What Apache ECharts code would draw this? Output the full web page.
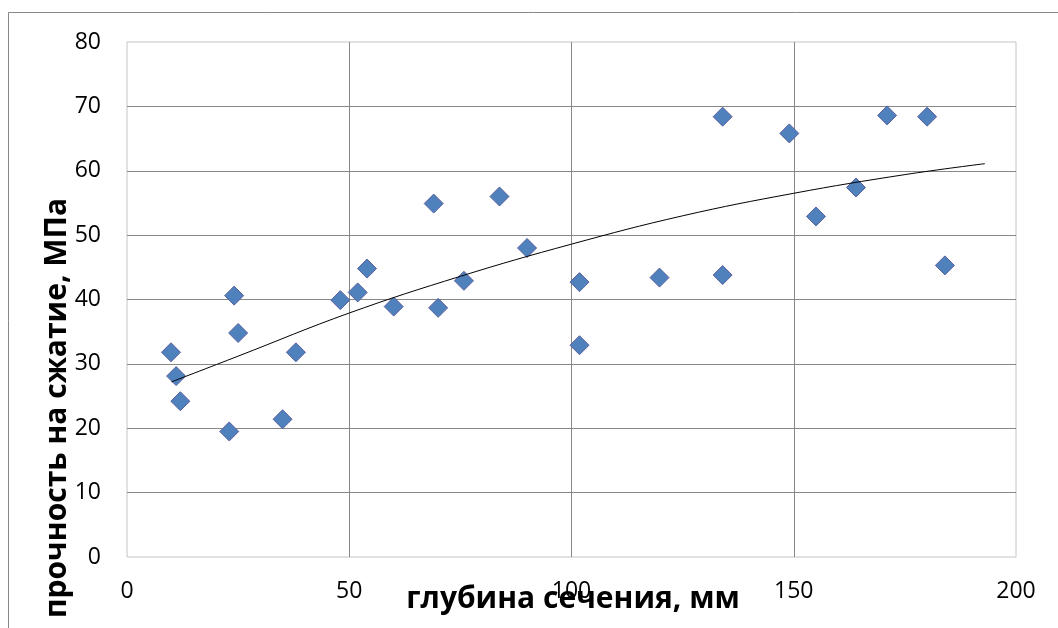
<!DOCTYPE html>
<html>
<head>
<meta charset="utf-8">
<script src="https://cdn.jsdelivr.net/npm/echarts@6/dist/echarts.min.js"></script>
<style>
html,body{margin:0;padding:0;background:#fff;}
#chart{width:1058px;height:628px;}
</style>
</head>
<body>
<div id="chart"></div>
<script>
// depth of section, mm
const depthX = [9.9, 11.05, 12.0, 23.0, 24.1, 25.0, 35.0, 38.0, 48.0, 51.9, 54.0, 60.0, 69.0, 70.0, 75.8, 83.8, 90.0, 101.8, 101.8, 119.8, 134.0, 134.0, 149.0, 155.0, 164.0, 171.0, 180.0, 184.0];
// compressive strength, MPa
const strengthY = [31.8, 28.1, 24.2, 19.5, 40.6, 34.8, 21.4, 31.8, 39.9, 41.1, 44.8, 38.9, 54.9, 38.7, 42.9, 56.0, 48.0, 42.7, 32.9, 43.4, 68.4, 43.8, 65.8, 52.9, 57.4, 68.6, 68.4, 45.3];
// trend line
const trendX = [10, 25, 50, 75, 100, 125, 150, 175, 193];
const trendY = [27.2, 31.2, 37.9, 43.6, 48.6, 53.0, 56.5, 59.4, 61.1];
const xTitle = 'глубина сечения, мм';
const yTitle = 'прочность на сжатие, МПа';

const FONT = '"Open Sans", "Noto Sans", sans-serif';
const chart = echarts.init(document.getElementById('chart'), null, {renderer: 'canvas'});
chart.setOption({
  animation: false,
  backgroundColor: '#fff',
  grid: {left: 127, top: 42, right: 42, bottom: 71, show: true, borderColor: '#c4c4c4', borderWidth: 1, backgroundColor: 'transparent'},
  xAxis: {
    type: 'value', min: 0, max: 200, interval: 50,
    axisLine: {show: false}, axisTick: {show: false},
    axisLabel: {color: '#000', fontFamily: FONT, fontSize: 23, margin: 23},
    splitLine: {show: true, showMinLine: false, showMaxLine: false, lineStyle: {color: '#878787', width: 1}}
  },
  yAxis: {
    type: 'value', min: 0, max: 80, interval: 10,
    axisLine: {show: false}, axisTick: {show: false},
    axisLabel: {color: '#000', fontFamily: FONT, fontSize: 23, margin: 26},
    splitLine: {show: true, showMinLine: false, showMaxLine: false, lineStyle: {color: '#878787', width: 1}}
  },
  graphic: [
    {type: 'rect', shape: {x: 8.5, y: 12.5, width: 1200, height: 800}, style: {fill: 'none', stroke: '#888', lineWidth: 1}, z: -1},
    {type: 'text', x: 573, y: 599, style: {text: xTitle, font: 'bold 30px ' + FONT, fill: '#000', textAlign: 'center', textVerticalAlign: 'middle'}, z: 10},
    {type: 'text', x: 57, y: 408, rotation: Math.PI / 2, style: {text: yTitle, font: 'bold 30px ' + FONT, fill: '#000', textAlign: 'center', textVerticalAlign: 'middle'}, z: 10}
  ],
  series: [
    {
      type: 'line', data: trendX.map((x, i) => [x, trendY[i]]), smooth: 0.4, showSymbol: false,
      lineStyle: {color: '#000', width: 1}, z: 3, silent: true
    },
    {
      type: 'scatter', data: depthX.map((x, i) => [x, strengthY[i]]),
      symbol: 'diamond', symbolSize: 19,
      itemStyle: {color: '#4F81BD', borderColor: '#5a5f9e', borderWidth: 1, opacity: 1}, z: 2
    }
  ]
});
</script>
</body>
</html>
